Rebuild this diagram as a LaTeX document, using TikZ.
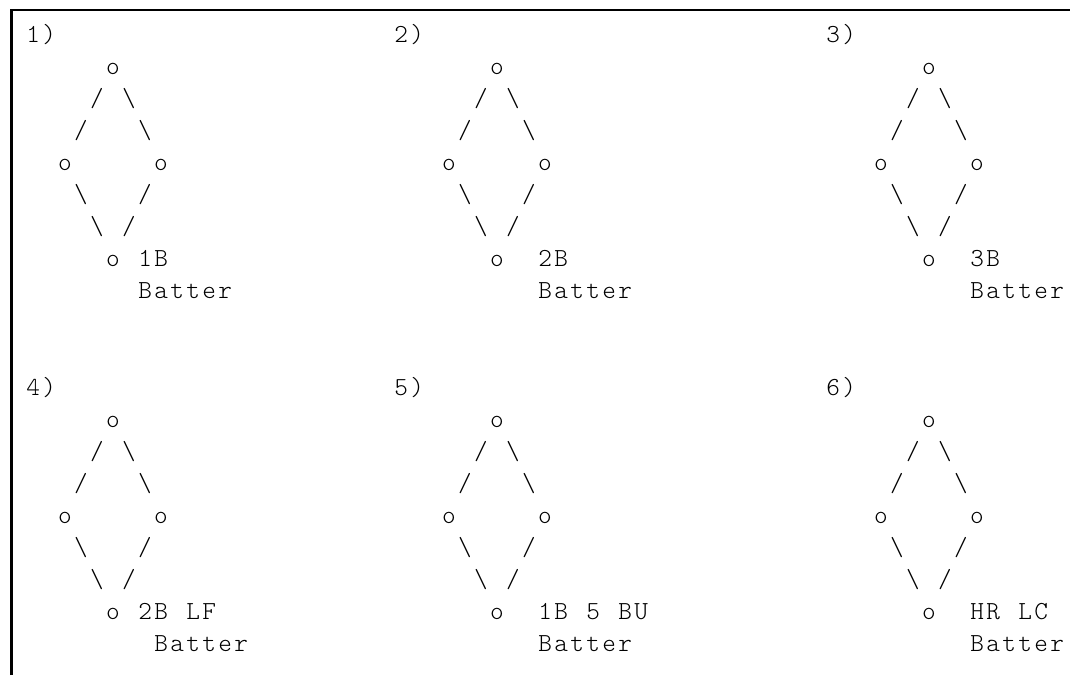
\documentclass[tikz,border=0pt]{standalone}
\usepackage{fontspec}
\newfontfamily\cour{Latin Modern Mono Light}
\tikzset{
  glyph/.style={anchor=base, inner sep=0pt, font=\cour\fontsize{26}{26}\selectfont},
  word/.style={anchor=base west, inner sep=0pt, font=\cour\fontsize{26}{26}\selectfont},
  frameline/.style={line width=2.5pt, line join=miter}
}
\def\spreadw#1{\ifx#1\relax\else\makebox[16pt][c]{#1}\expandafter\spreadw\fi}
\newcommand\spreadword[1]{\spreadw#1\relax}
% one glyph centred in column #2 of text line #3
\newcommand\glyph[4]{\node[glyph] (#1) at ({33+16*(#2)},{42+32.1*(#3)}) {#4};}
% a word starting at column #2 of text line #3
\newcommand\word[4]{\node[word] (#1) at ({25+16*(#2)},{42+32.1*(#3)}) {\spreadword{#4}};}
% the ASCII diamond, top 'o' at column #2, line #3
\newcommand\bdiamond[3]{%
  \glyph{#1t}{#2}{#3}{o}
  \glyph{#1a}{#2-1}{#3+1}{/}
  \glyph{#1b}{#2+1}{#3+1}{\textbackslash}
  \glyph{#1c}{#2-2}{#3+2}{/}
  \glyph{#1d}{#2+2}{#3+2}{\textbackslash}
  \glyph{#1l}{#2-3}{#3+3}{o}
  \glyph{#1r}{#2+3}{#3+3}{o}
  \glyph{#1e}{#2-2}{#3+4}{\textbackslash}
  \glyph{#1f}{#2+2}{#3+4}{/}
  \glyph{#1g}{#2-1}{#3+5}{\textbackslash}
  \glyph{#1h}{#2+1}{#3+5}{/}
  \glyph{#1o}{#2}{#3+6}{o}
}
\begin{document}
\begin{tikzpicture}[x=1pt,y=-1pt]
\useasboundingbox (0,0) rectangle (1070,675);
\coordinate (fbl) at (11.5,675);
\coordinate (ftl) at (11.5,10);
\coordinate (ftr) at (1070,10);
\draw[frameline] (fbl) -- (ftl) -- (ftr);

% block 1
\word{l1}{0}{0}{1)}
\word{l2}{23}{0}{2)}
\word{l3}{50}{0}{3)}
\bdiamond{da}{5}{1}
\bdiamond{db}{29}{1}
\bdiamond{dc}{56}{1}
\word{t1}{7}{7}{1B}
\word{t2}{32}{7}{2B}
\word{t3}{59}{7}{3B}
\word{b1}{7}{8}{Batter}
\word{b2}{32}{8}{Batter}
\word{b3}{59}{8}{Batter}

% block 2
\word{l4}{0}{11}{4)}
\word{l5}{23}{11}{5)}
\word{l6}{50}{11}{6)}
\bdiamond{dd}{5}{12}
\bdiamond{de}{29}{12}
\bdiamond{df}{56}{12}
\word{t4a}{7}{18}{2B}
\word{t4b}{10}{18}{LF}
\word{t5a}{32}{18}{1B}
\word{t5b}{35}{18}{5}
\word{t5c}{37}{18}{BU}
\word{t6a}{59}{18}{HR}
\word{t6b}{62}{18}{LC}
\word{b4}{8}{19}{Batter}
\word{b5}{32}{19}{Batter}
\word{b6}{59}{19}{Batter}
\end{tikzpicture}
\end{document}
